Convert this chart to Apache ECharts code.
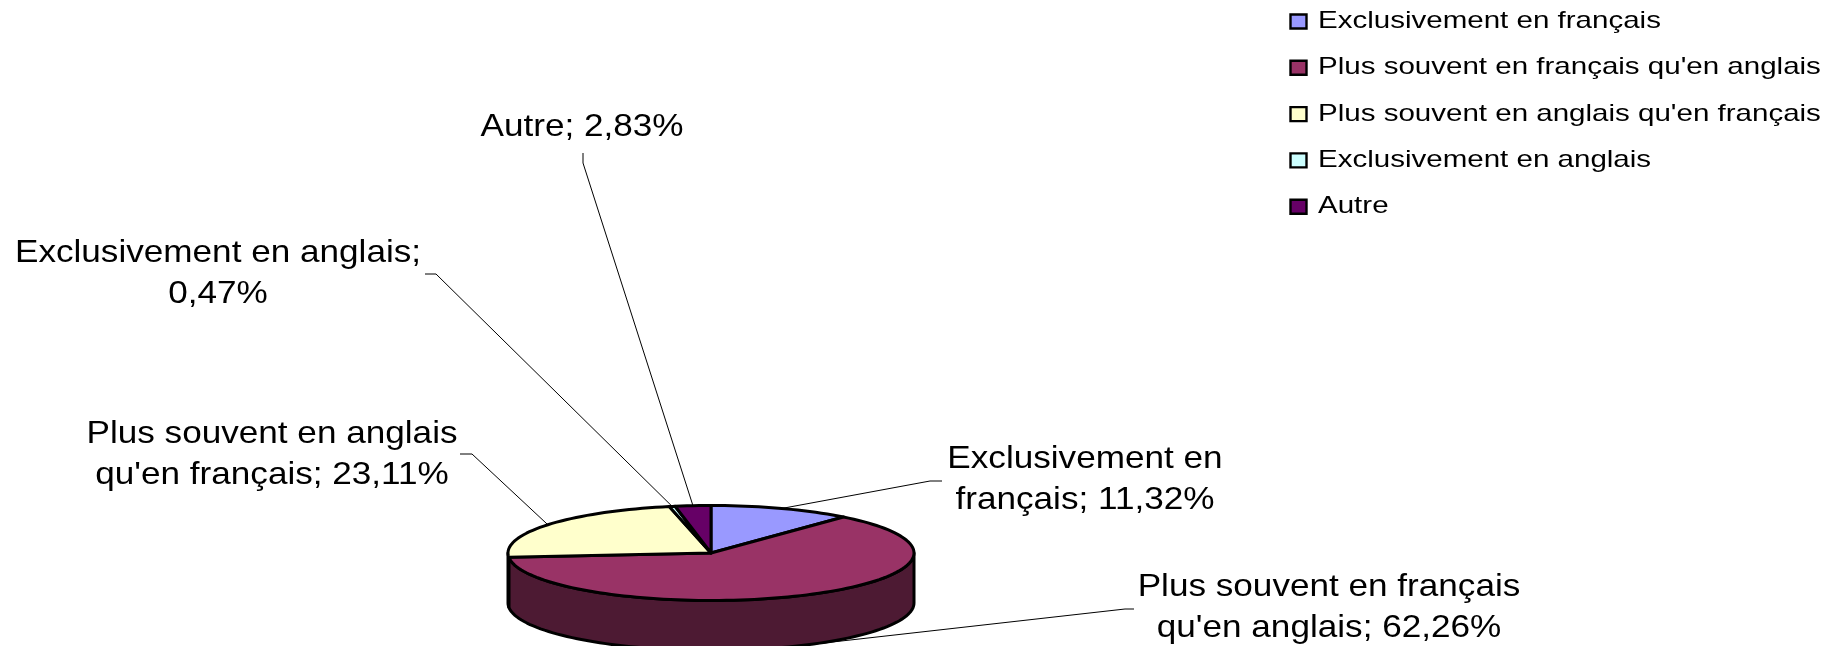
<!DOCTYPE html>
<html>
<head>
<meta charset="utf-8">
<style>
  html, body { margin: 0; padding: 0; background: #fff; }
  #main { width: 1825px; height: 646px; }
</style>
<script src="https://cdn.jsdelivr.net/npm/echarts@6/dist/echarts.min.js"></script>
</head>
<body>
<div id="main"></div>
<script>
var categories = [
  'Exclusivement en français',
  'Plus souvent en français qu\'en anglais',
  'Plus souvent en anglais qu\'en français',
  'Exclusivement en anglais',
  'Autre'
];
var shares = [11.32, 62.26, 23.11, 0.47, 2.83];
var colors = ['#9999FF', '#993366', '#FFFFCC', '#CCFFFF', '#660066'];
var wallColors = ['#4D4D80', '#4D1A33', '#808066', '#668080', '#330033'];

// label lines as drawn in the picture, one entry per slice
var labelLines = [
  ['Exclusivement en', 'français; 11,32%'],
  ['Plus souvent en français', 'qu\'en anglais; 62,26%'],
  ['Plus souvent en anglais', 'qu\'en français; 23,11%'],
  ['Exclusivement en anglais;', '0,47%'],
  ['Autre; 2,83%']
];

// pie geometry
var cx = 711, cy = 553, rx = 203, ry = 47.5, depth = 50;
var labelFont = 31.5, stretch = 1.115;
var labelPos = [[1085, 459], [1329, 587], [272, 434], [218, 253], [582, 127]];
var labelHeight = 41.5;
var elbows = [
  [[942, 481], [930, 481]],
  [[1134, 609], [1125, 609]],
  [[460, 454], [472, 454]],
  [[425, 274], [436, 274]],
  [[583, 153], [583, 163]]
];

var total = shares.reduce(function (a, b) { return a + b; }, 0);

function pt(deg, down) {
  var r = deg * Math.PI / 180;
  return [cx + rx * Math.sin(r), cy - ry * Math.cos(r) + (down || 0)];
}

function arc(from, to, down) {
  var pts = [];
  var n = Math.max(2, Math.ceil((to - from) / 2));
  for (var i = 0; i <= n; i++) {
    pts.push(pt(from + (to - from) * i / n, down));
  }
  return pts;
}

function makeRender(idx) {
  return function (params, api) {
    var before = 0;
    for (var i = 0; i < idx; i++) before += shares[i];
    var a0 = before / total * 360;
    var a1 = a0 + api.value(0) / total * 360;
    var mid = (a0 + a1) / 2;
    var children = [];

    // side wall, only the front half of the pie shows
    var w0 = Math.max(a0, 90), w1 = Math.min(a1, 270);
    if (w1 > w0) {
      children.push({
        type: 'polygon',
        z2: 10,
        shape: { points: arc(w0, w1, 0).concat(arc(w0, w1, depth).reverse()) },
        style: { fill: wallColors[idx], stroke: '#000', lineWidth: 3, lineJoin: 'round' }
      });
    }
    // top face
    children.push({
      type: 'polygon',
      z2: 20,
      shape: { points: [[cx, cy]].concat(arc(a0, a1, 0)) },
      style: { fill: colors[idx], stroke: '#000', lineWidth: 3, lineJoin: 'round' }
    });

    // leader line ends on the middle of the slice edge, behind the pie
    var front = mid > 90 && mid < 270;
    children.push({
      type: 'polyline',
      z2: 5,
      shape: { points: elbows[idx].concat([pt(mid, front ? depth : 0)]) },
      style: { fill: null, stroke: '#000', lineWidth: 1 }
    });

    labelLines[idx].forEach(function (line, k) {
      children.push({
        type: 'text',
        z2: 30,
        x: labelPos[idx][0],
        y: labelPos[idx][1] + k * labelHeight,
        scaleX: stretch,
        style: {
          text: line,
          x: 0,
          y: 0,
          textAlign: 'center',
          textVerticalAlign: 'middle',
          fontFamily: '"Liberation Sans", Arial, sans-serif',
          fontSize: labelFont,
          fill: '#000'
        }
      });
    });
    return { type: 'group', children: children };
  };
}

var legendTop = 21.5, legendStep = 46.3;
var legendItems = [];
categories.forEach(function (name, i) {
  var y = legendTop + i * legendStep;
  legendItems.push({
    type: 'rect',
    shape: { x: 1290.5, y: y - 7, width: 16, height: 14 },
    style: { fill: colors[i], stroke: '#000', lineWidth: 2.4 }
  });
  legendItems.push({
    type: 'text',
    x: 1318,
    y: y,
    scaleX: 1.23,
    style: {
      text: name,
      x: 0,
      y: 0,
      textAlign: 'left',
      textVerticalAlign: 'middle',
      fontFamily: '"Liberation Sans", Arial, sans-serif',
      fontSize: 24,
      fill: '#000'
    }
  });
});

var myChart = echarts.init(document.getElementById('main'));
var option = {
  animation: false,
  backgroundColor: '#fff',
  graphic: { elements: legendItems },
  series: categories.map(function (name, i) {
    return {
      type: 'custom',
      name: name,
      coordinateSystem: 'none',
      renderItem: makeRender(i),
      data: [[shares[i]]]
    };
  })
};
myChart.setOption(option);
window.onresize = function () {
  myChart.resize();
};
</script>
</body>
</html>
